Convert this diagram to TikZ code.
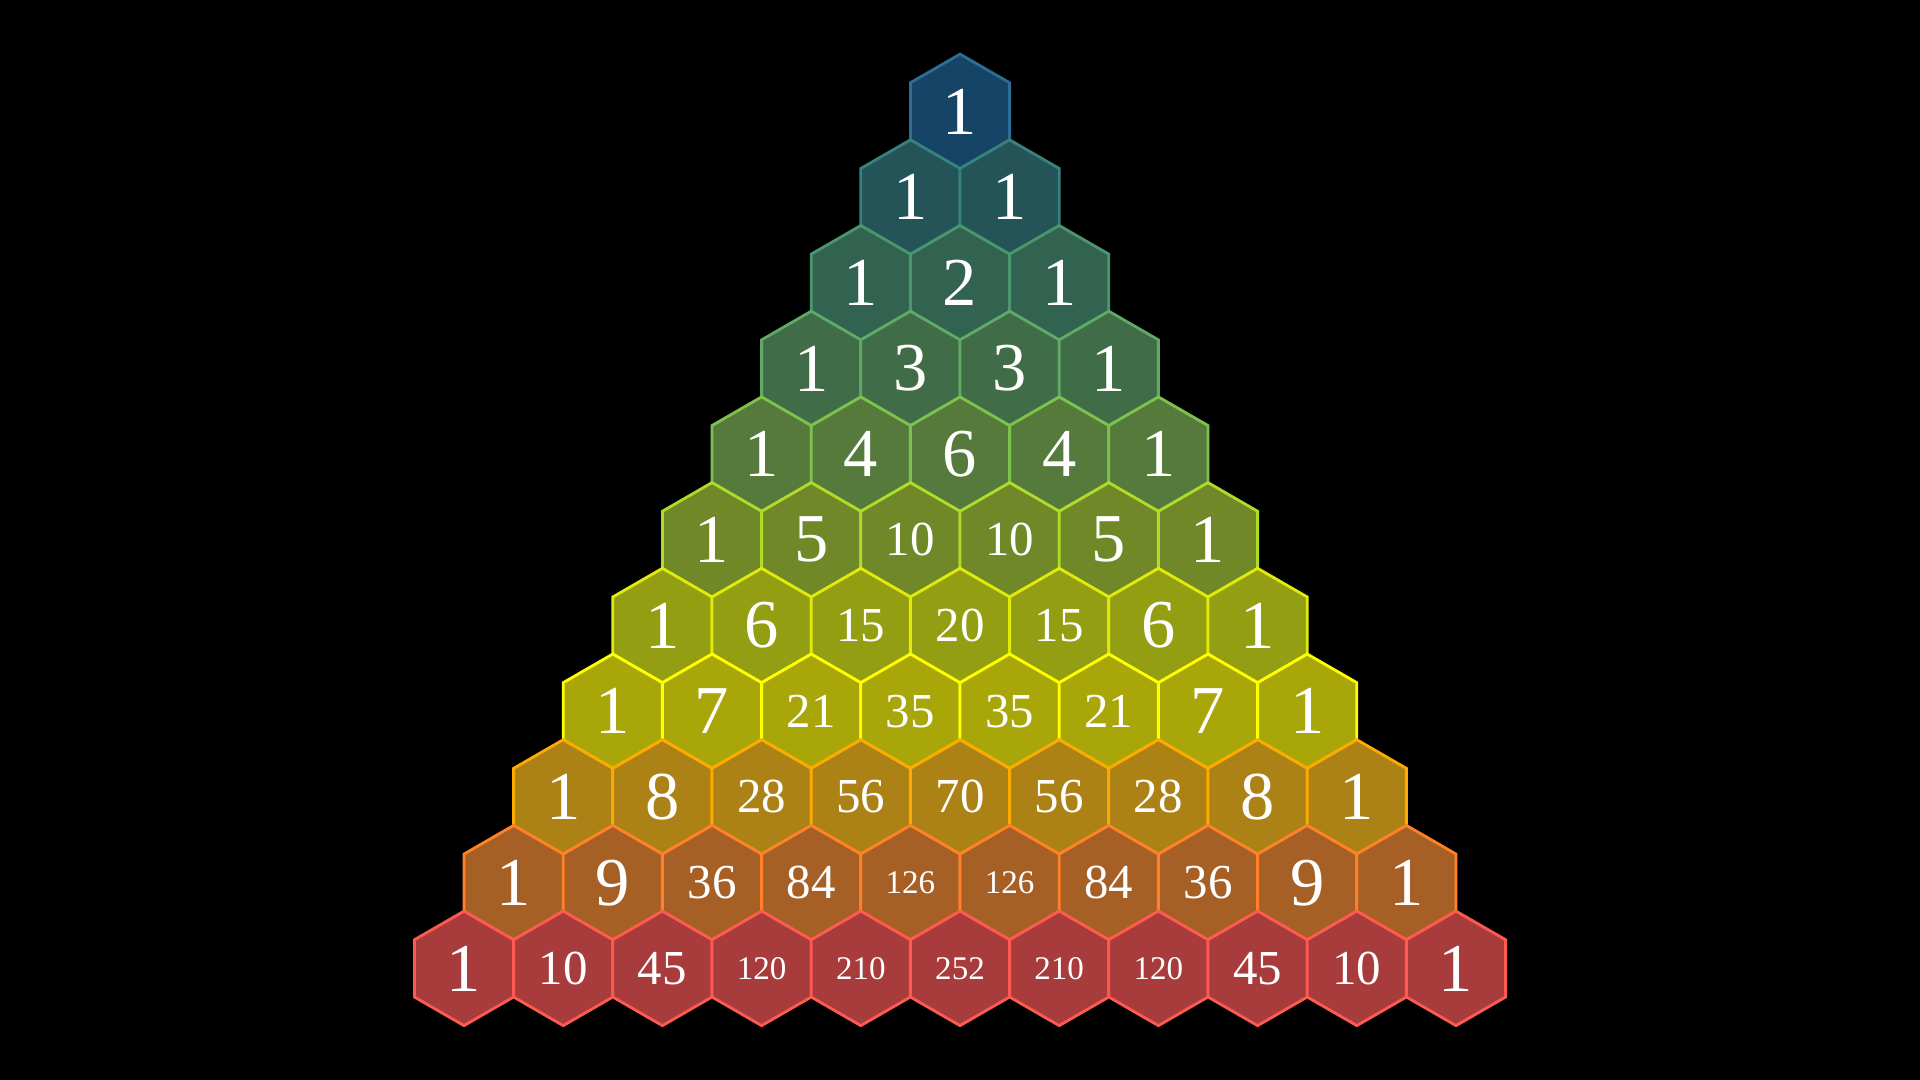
\documentclass[tikz,border=0pt]{standalone}
\usepackage{fontspec}
\setmainfont{Liberation Serif}
\usepackage{tikz}
\usetikzlibrary{shapes.geometric}

\definecolor{edge0}{RGB}{45,110,150}  \definecolor{fill0}{RGB}{22,68,102}
\definecolor{edge1}{RGB}{55,130,125}  \definecolor{fill1}{RGB}{36,84,88}
\definecolor{edge2}{RGB}{75,150,110}  \definecolor{fill2}{RGB}{50,98,80}
\definecolor{edge3}{RGB}{95,170,100}  \definecolor{fill3}{RGB}{65,108,72}
\definecolor{edge4}{RGB}{125,195,75}  \definecolor{fill4}{RGB}{86,122,60}
\definecolor{edge5}{RGB}{175,220,40}  \definecolor{fill5}{RGB}{112,136,40}
\definecolor{edge6}{RGB}{225,235,10}  \definecolor{fill6}{RGB}{148,158,18}
\definecolor{edge7}{RGB}{255,255,0}   \definecolor{fill7}{RGB}{168,166,8}
\definecolor{edge8}{RGB}{255,170,0}   \definecolor{fill8}{RGB}{172,130,22}
\definecolor{edge9}{RGB}{255,130,40}  \definecolor{fill9}{RGB}{166,96,38}
\definecolor{edge10}{RGB}{255,90,80}  \definecolor{fill10}{RGB}{168,60,60}

% digit size depends on how many digits
\newcommand\cellnum[1]{\ifnum#1<10 \fontsize{19.5}{20}\selectfont\else\ifnum#1<100 \fontsize{13.9}{14}\selectfont\else\fontsize{9.4}{10}\selectfont\fi\fi #1}

\begin{document}
\begin{tikzpicture}[
    every node/.style={text=white},
    hexcell/.style={regular polygon, regular polygon sides=6, shape border rotate=30,
        minimum size=1.145cm, inner sep=0pt, line width=0.8pt, draw=edge#1, fill=fill#1}
    ]
\fill[black] (0,0) rectangle (19.2,10.8);
\foreach \r/\vals in {0/{1},1/{1,1},2/{1,2,1},3/{1,3,3,1},4/{1,4,6,4,1},
    5/{1,5,10,10,5,1},6/{1,6,15,20,15,6,1},7/{1,7,21,35,35,21,7,1},
    8/{1,8,28,56,70,56,28,8,1},9/{1,9,36,84,126,126,84,36,9,1},
    10/{1,10,45,120,210,252,210,120,45,10,1}}{
  \foreach \v [count=\k from 0] in \vals {
    \pgfmathsetmacro{\xx}{9.6+(\k-\r/2)*0.992}
    \pgfmathsetmacro{\yy}{9.686-\r*0.857}
    \node[hexcell=\r] (h\r-\k) at (\xx,\yy) {\cellnum{\v}};
  }
}
\end{tikzpicture}
\end{document}
